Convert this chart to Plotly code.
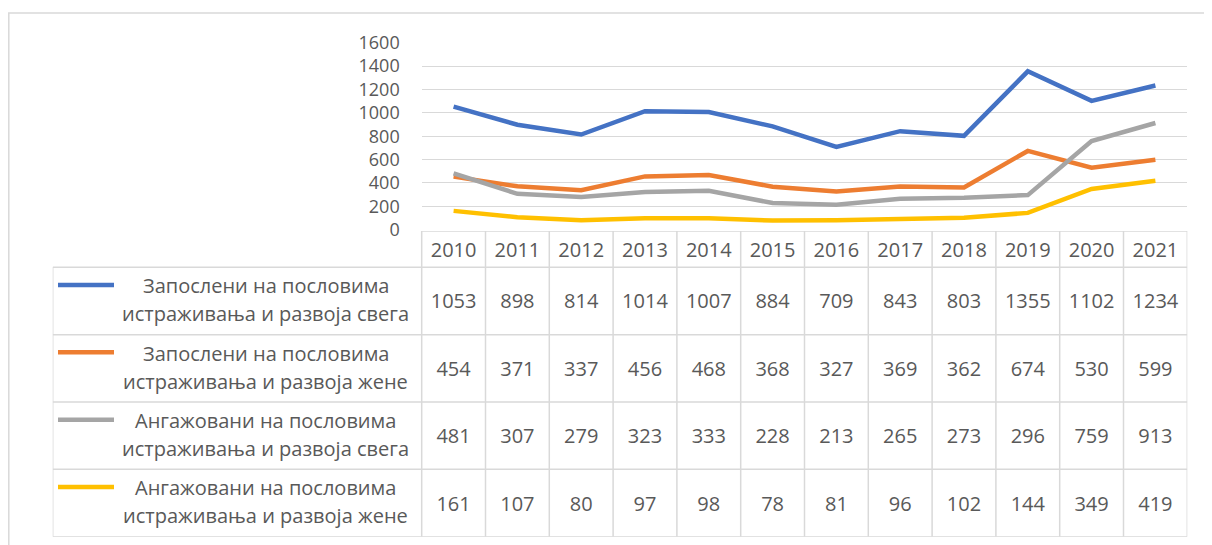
import plotly.graph_objects as go

W, H = 1212, 545
OX, OY = 8, 8  # page body margin

years = ["2010", "2011", "2012", "2013", "2014", "2015",
         "2016", "2017", "2018", "2019", "2020", "2021"]
series_line1 = [
    "Запослени на пословима",
    "Запослени на пословима",
    "Ангажовани на пословима",
    "Ангажовани на пословима",
]
series_line2 = [
    "истраживања и развоја свега",
    "истраживања и развоја жене",
    "истраживања и развоја свега",
    "истраживања и развоја жене",
]
employed_total = [1053, 898, 814, 1014, 1007, 884, 709, 843, 803, 1355, 1102, 1234]
employed_women = [454, 371, 337, 456, 468, 368, 327, 369, 362, 674, 530, 599]
engaged_total = [481, 307, 279, 323, 333, 228, 213, 265, 273, 296, 759, 913]
engaged_women = [161, 107, 80, 97, 98, 78, 81, 96, 102, 144, 349, 419]
y_ticks = [0, 200, 400, 600, 800, 1000, 1200, 1400, 1600]

series_values = [employed_total, employed_women, engaged_total, engaged_women]
colors = ["#4472C4", "#ED7D31", "#A5A5A5", "#FFC000"]

FONT = "Open Sans"
TXT = "#595959"
GRID = "#d9d9d9"


def px_x(p):
    return (p - OX) / W


def px_y(p):
    return 1 - (p - OY) / H


# geometry (pixels in the reference picture)
plot_left, plot_right = 421.7, 1187.3
plot_top, plot_bottom = 42.7, 229.7
table_left = 52.7
table_top, table_bottom = 231.0, 536.7
col_w = (plot_right - plot_left) / len(years)
legend_units = (plot_left - table_left) / col_w
x2_min = -0.5 - legend_units
x2_max = len(years) - 0.5
n_rows = len(series_values)
row_px = (table_bottom - table_top - 36.3) / n_rows
hdr = 36.3 / row_px
text_dy = 2.5 / row_px

fig = go.Figure()

for l1, l2, vals, col in zip(series_line1, series_line2, series_values, colors):
    fig.add_trace(go.Scatter(
        x=years, y=vals, mode="lines", name=l1 + " " + l2,
        line=dict(color=col, width=4.5), xaxis="x", yaxis="y",
        showlegend=False))

# table texts
tx, ty, tt = [], [], []
for yr in years:
    tx.append(yr); ty.append(-hdr / 2 + text_dy); tt.append(yr)
for i, vals in enumerate(series_values):
    for yr, v in zip(years, vals):
        tx.append(yr); ty.append(i + 0.5 + text_dy); tt.append(str(v))
fig.add_trace(go.Scatter(
    x=tx, y=ty, text=tt, mode="text", xaxis="x2", yaxis="y2",
    textfont=dict(family=FONT, size=20, color=TXT), showlegend=False,
    hoverinfo="skip"))

shapes = []
bw = dict(color=GRID, width=1.5)
# outer frame
shapes.append(dict(type="rect", xref="paper", yref="paper",
                   x0=px_x(8.8), x1=px_x(1230), y0=px_y(13), y1=px_y(560),
                   line=dict(color=GRID, width=1.5)))
# vertical cell borders
for k in range(len(years) + 1):
    shapes.append(dict(type="line", xref="x2", yref="y2",
                       x0=k - 0.5, x1=k - 0.5, y0=-hdr, y1=n_rows, line=bw))
shapes.append(dict(type="line", xref="x2", yref="y2",
                   x0=x2_min, x1=x2_min, y0=0, y1=n_rows, line=bw))
# horizontal borders
shapes.append(dict(type="line", xref="x2", yref="y2",
                   x0=-0.5, x1=x2_max, y0=-hdr, y1=-hdr, line=bw))
for r in range(n_rows + 1):
    shapes.append(dict(type="line", xref="x2", yref="y2",
                       x0=x2_min, x1=x2_max, y0=r, y1=r, line=bw))
# legend keys and labels
annotations = []
key_x0 = x2_min + 5.3 / col_w
key_x1 = x2_min + 61.3 / col_w
text_cx = x2_min + (265.5 - table_left) / col_w
line1_y = 18.5 / row_px
line2_y = 46.5 / row_px
for i, (l1, l2, col) in enumerate(zip(series_line1, series_line2, colors)):
    shapes.append(dict(type="line", xref="x2", yref="y2",
                       x0=key_x0, x1=key_x1, y0=i + 17.7 / row_px,
                       y1=i + 17.7 / row_px,
                       line=dict(color=col, width=4.5)))
    for txt, dy in ((l1, line1_y), (l2, line2_y)):
        annotations.append(dict(xref="x2", yref="y2", x=text_cx, y=i + dy,
                                text=txt, showarrow=False, align="center",
                                xanchor="center", yanchor="middle",
                                font=dict(family=FONT, size=20, color=TXT)))

fig.update_layout(
    width=W, height=H, autosize=False,
    margin=dict(l=0, r=0, t=0, b=0, pad=0, autoexpand=False),
    paper_bgcolor="white", plot_bgcolor="rgba(0,0,0,0)",
    shapes=shapes, annotations=annotations,
    xaxis=dict(domain=[px_x(plot_left), px_x(plot_right)], type="category",
               categoryarray=years, range=[-0.5, len(years) - 0.5],
               showticklabels=False, showgrid=False, zeroline=False,
               showline=False, anchor="y", automargin=False),
    yaxis=dict(domain=[px_y(plot_bottom), px_y(plot_top)],
               range=[0, 1600], tickvals=y_ticks, showgrid=True,
               gridcolor=GRID, gridwidth=1.3, zeroline=False, showline=False,
               ticks="", ticklabelstandoff=21, anchor="x", automargin=False,
               tickfont=dict(family=FONT, size=18, color=TXT)),
    xaxis2=dict(domain=[px_x(table_left), px_x(plot_right)], type="category",
                categoryarray=years, range=[x2_min, x2_max],
                showticklabels=False, showgrid=False, zeroline=False,
                showline=False, anchor="y2", automargin=False),
    yaxis2=dict(domain=[px_y(table_bottom), px_y(table_top)],
                range=[n_rows, -hdr], showticklabels=False, showgrid=False,
                zeroline=False, showline=False, anchor="x2", automargin=False),
)

fig.write_html("out.html")
